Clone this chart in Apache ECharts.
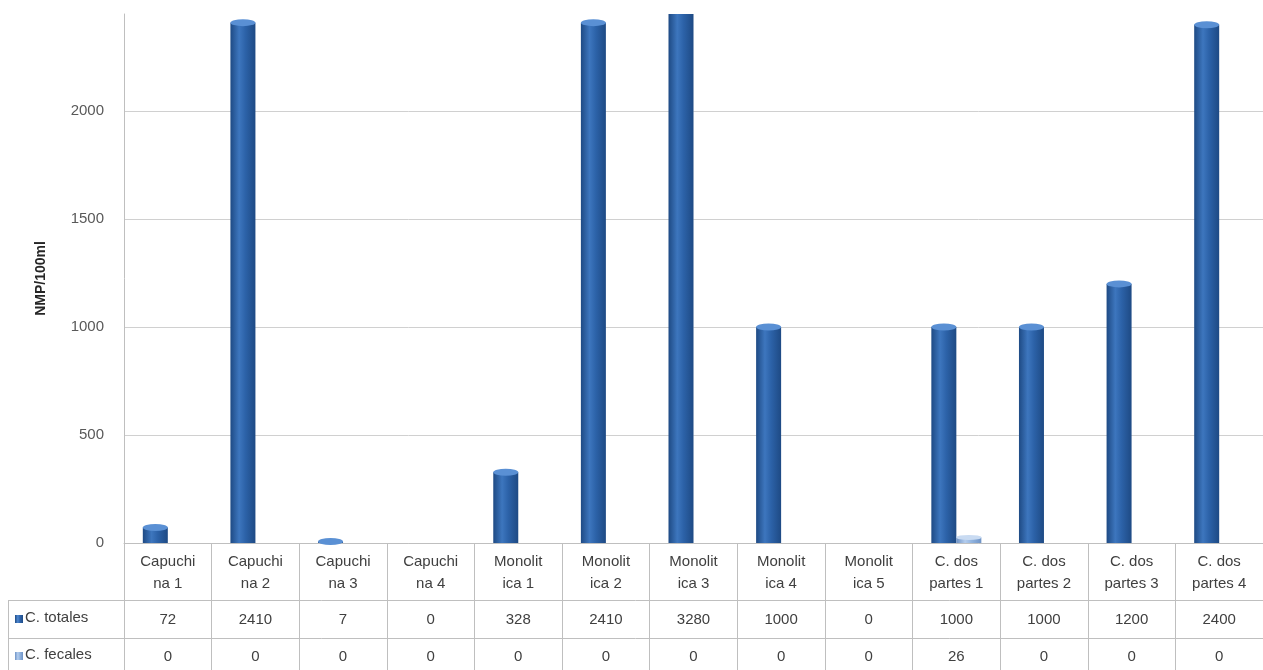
<!DOCTYPE html>
<html><head><meta charset="utf-8">
<script src="https://cdn.jsdelivr.net/npm/echarts@6/dist/echarts.min.js"></script>
<style>html,body{margin:0;padding:0;background:#fff}#c{width:1263px;height:670px}</style>
</head><body><div id="c"></div>
<script>
const categories = ['Capuchi\nna 1','Capuchi\nna 2','Capuchi\nna 3','Capuchi\nna 4','Monolit\nica 1','Monolit\nica 2','Monolit\nica 3','Monolit\nica 4','Monolit\nica 5','C. dos\npartes 1','C. dos\npartes 2','C. dos\npartes 3','C. dos\npartes 4'];
const totales = [72,2410,7,0,328,2410,3280,1000,0,1000,1000,1200,2400];
const fecales = [0,0,0,0,0,0,0,0,0,26,0,0,0];
const seriesNames = ['C. totales','C. fecales'];
const yTicks = {min:0, max:2450, interval:500};

const FONT = 'Liberation Sans';
const TXT = '#404040';
const LINE = '#BFBFBF';

function cyl(dark, mid, light){
  return new echarts.graphic.LinearGradient(0,0,1,0,[
    {offset:0,color:dark},{offset:0.35,color:light},{offset:0.6,color:mid},{offset:1,color:dark}]);
}
const capData = arr => arr.map(v => v > 0 ? v : null);
const chart = echarts.init(document.getElementById('c'));
const option = {
  animation:false,
  textStyle:{fontFamily:FONT},
  grid:{left:124,right:0,top:14,bottom:127},
  xAxis:[
    {type:'category',data:categories,position:'bottom',
     axisLine:{lineStyle:{color:LINE,width:1}},
     axisTick:{show:true,length:127,lineStyle:{color:LINE},interval:0},
     axisLabel:{interval:0,color:TXT,fontSize:15,lineHeight:22,margin:8,fontFamily:FONT}},
    {type:'category',data:totales.map(String),position:'bottom',
     axisLine:{show:false},axisTick:{show:false},
     axisLabel:{interval:0,color:TXT,fontSize:15,margin:69,fontFamily:FONT}},
    {type:'category',data:fecales.map(String),position:'bottom',
     axisLine:{show:false},axisTick:{show:false},
     axisLabel:{interval:0,color:TXT,fontSize:15,margin:106,fontFamily:FONT}}
  ],
  yAxis:{type:'value',min:yTicks.min,max:yTicks.max,interval:yTicks.interval,
    name:'NMP/100ml',nameLocation:'middle',nameGap:76,nameRotate:90,
    nameTextStyle:{fontWeight:'bold',fontSize:14,color:'#262626',fontFamily:FONT},
    axisLine:{show:true,lineStyle:{color:LINE}},axisTick:{show:false},
    axisLabel:{color:'#595959',fontSize:15,margin:20,fontFamily:FONT,
      formatter:v=> v%500===0 ? String(v) : ''},
    splitLine:{showMaxLine:false,lineStyle:{color:'#D0D0D0'}}},
  series:[
    {name:seriesNames[0],type:'bar',data:totales,barWidth:25,barGap:'0%',clip:true,
     itemStyle:{color:cyl('#1E4A84','#2C62A8','#3D76BE')}},
    {name:seriesNames[1],type:'bar',data:fecales,barWidth:25,clip:true,
     itemStyle:{color:cyl('#6E93C6','#93B5E0','#B4CDEE')}},
    {type:'pictorialBar',data:capData(totales),symbol:'circle',symbolSize:[25,7],
     symbolPosition:'end',symbolOffset:[-12.5,'-50%'],z:5,
     itemStyle:{color:'#5A90D4'}},
    {type:'pictorialBar',data:capData(fecales),symbol:'circle',symbolSize:[25,5],
     symbolPosition:'end',symbolOffset:[12.5,'-50%'],z:5,
     itemStyle:{color:'#C9DBF2'}}
  ],
  graphic:[
    {type:'line',shape:{x1:8,y1:600.5,x2:1263,y2:600.5},style:{stroke:LINE,lineWidth:1}},
    {type:'line',shape:{x1:8,y1:638.5,x2:1263,y2:638.5},style:{stroke:LINE,lineWidth:1}},
    {type:'line',shape:{x1:8.5,y1:600,x2:8.5,y2:670},style:{stroke:LINE,lineWidth:1}},
    {type:'rect',shape:{x:15,y:615,width:8,height:8},style:{fill:cyl('#1F4C86','#2F66AE','#4F88D0')}},
    {type:'text',left:25,top:610,style:{text:seriesNames[0],fontSize:15,fill:TXT,fontFamily:FONT}},
    {type:'rect',shape:{x:15,y:652,width:8,height:8},style:{fill:cyl('#6E93C6','#93B5E0','#B4CDEE')}},
    {type:'text',left:25,top:647,style:{text:seriesNames[1],fontSize:15,fill:TXT,fontFamily:FONT}}
  ]
};
chart.setOption(option);
</script></body></html>
